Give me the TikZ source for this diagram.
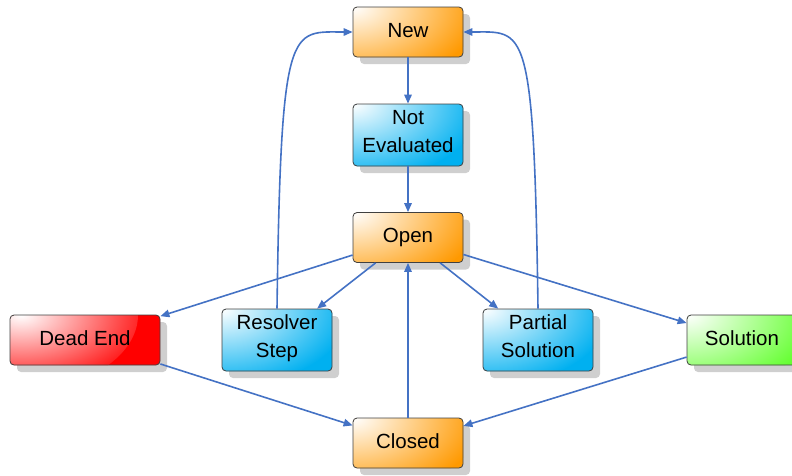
\documentclass[tikz,border=0pt]{standalone}
\usepackage{fontspec}
\setmainfont{Liberation Sans}
\usetikzlibrary{shadows,arrows.meta}

\definecolor{orangeF}{HTML}{FF9900}
\definecolor{blueF}{HTML}{00B0F0}
\definecolor{redF}{HTML}{FF0000}
\definecolor{greenF}{HTML}{66FF33}
\definecolor{edgeblue}{HTML}{4472C4}
\definecolor{boxborder}{HTML}{404040}
\definecolor{shadowgray}{HTML}{CFCFCF}

\tikzset{
  % rounded box in colour #1 with a white highlight at its top-left corner
  statebox/.style={rectangle, rounded corners=4pt, draw=boxborder,
    line width=0.8pt, minimum width=110pt, minimum height=50pt,
    inner sep=0pt, align=center, fill=#1,
    font=\fontsize{20.5pt}{28pt}\selectfont,
    text height=14pt, text depth=3.2pt,
    path picture={\shade[inner color=white, outer color=#1]
      (path picture bounding box.north west)
      ellipse [x radius=128pt, y radius=78pt];},
    drop shadow={shadow xshift=7pt, shadow yshift=-7pt,
      fill=shadowgray, opacity=1}},
  twoline/.style={minimum height=62pt, text height=42pt, text depth=8pt},
  orangebox/.style={statebox=orangeF},
  bluebox/.style={statebox=blueF, twoline},
  redbox/.style={statebox=redF},
  greenbox/.style={statebox=greenF},
  flow/.style={draw=edgeblue, line width=1.6pt,
    -{Triangle[length=9pt,width=7.5pt]}}
}

\begin{document}
\begin{tikzpicture}[x=1pt,y=-1pt]
  \useasboundingbox (0,0) rectangle (792,475);

  \node[orangebox] (new)  at (408,32)  {New};
  \node[bluebox]   (neval) at (408,135) {Not\\Evaluated};
  \node[orangebox] (open) at (408,237.5) {Open};
  \node[redbox, minimum width=150pt] (dead) at (85,340) {Dead End};
  \node[bluebox]   (res)  at (277,340) {Resolver\\Step};
  \node[bluebox]   (part) at (538,340) {Partial\\Solution};
  \node[greenbox]  (sol)  at (742,340) {Solution};
  \node[orangebox] (closed) at (408,443) {Closed};

  \draw[flow] (new) -- (neval);
  \draw[flow] (neval) -- (open);
  \draw[flow] (open) -- (dead);
  \draw[flow] (open) -- (res);
  \draw[flow] (open) -- (part);
  \draw[flow] (open) -- (sol);
  \draw[flow] (closed) -- (open);
  \draw[flow] (dead) -- (closed);
  \draw[flow] (sol) -- (closed);
  \draw[flow] (res.north) .. controls (281,20) and (290,32) .. (new.west);
  \draw[flow] (part.north) .. controls (534,20) and (525,32) .. (new.east);
\end{tikzpicture}
\end{document}
